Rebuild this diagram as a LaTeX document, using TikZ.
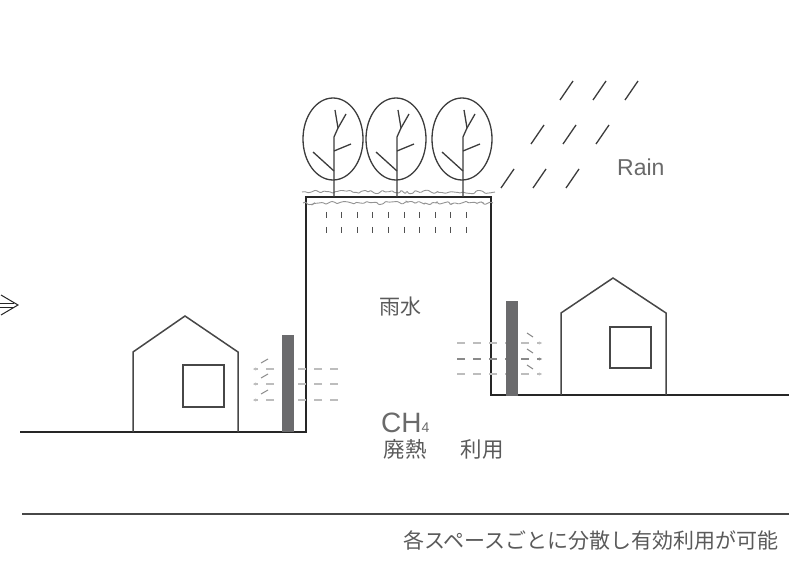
\documentclass[tikz,border=0pt]{standalone}
\usepackage{fontspec}
\setmainfont{Noto Sans CJK JP}
\newfontfamily\latinfont{Liberation Sans}
\usetikzlibrary{decorations.pathmorphing,arrows.meta}
\definecolor{ink}{HTML}{262626}
\definecolor{txt}{HTML}{5A5A5A}
\definecolor{latintxt}{HTML}{6A6A6A}
\definecolor{pillar}{HTML}{6B6B6D}
\definecolor{flowlight}{HTML}{BDBDBD}
\definecolor{flowdark}{HTML}{8A8A8A}
\tikzset{
  wall/.style={draw=ink, line width=2pt},
  house/.style={draw=ink!85, line width=1.5pt, line join=miter},
  tree/.style={draw=ink!90, line width=1.3pt},
  grass/.style={draw=gray!85, line width=0.9pt, decorate,
    decoration={random steps, segment length=3pt, amplitude=1.8pt}, rounded corners=0.8pt},
  tick/.style={draw=ink!80, line width=0.8pt},
  rain/.style={draw=ink!90, line width=1.3pt},
  flow/.style={line width=1.3pt, dash pattern=on 8pt off 8pt},
  slant/.style={draw=flowdark, line width=1pt},
  label/.style={text=txt, inner sep=0pt},
  pillarbox/.style={fill=pillar, draw=none}
}
\begin{document}
\begin{tikzpicture}[x=1pt, y=-1pt]
\useasboundingbox (0,0) rectangle (789,561);

% ground, raised block and ground on the right
\draw[wall] (20,432) -- (306,432) -- (306,197) -- (491,197) -- (491,395) -- (789,395);

% grass layer on the roof
\pgfmathsetseed{7}
\draw[grass] (302,192) -- (495,192);
\draw[grass] (303,203) -- (493,203);

% trees
\foreach \cx in {333,396,462} {
  \draw[tree] (\cx,139) ellipse [x radius=30pt, y radius=41pt];
  \draw[tree, line join=round] ({\cx+1},197) -- ({\cx+1},137) -- ({\cx+5},128) -- ({\cx+2},110);
  \draw[tree] ({\cx+5},128) -- ({\cx+13},114);
  \draw[tree] ({\cx+1},171) -- ({\cx-20},152);
  \draw[tree] ({\cx+1},151) -- ({\cx+18},144);
}

% water seeping through the soil
\foreach \i in {0,...,9} {
  \draw[tick] ({326+15.6*\i},212) -- ({326+15.6*\i},218);
  \draw[tick] ({326+15.6*\i},227) -- ({326+15.6*\i},233);
}

% rain
\foreach \x/\y in {560/100,593/100,625/100,531/144,563/144,596/144,501/188,533/188,566/188} {
  \draw[rain] (\x,\y) -- ({\x+13},{\y-19});
}

% houses
\draw[house] (133,432) -- (133,352) -- (185,316) -- (238,352) -- (238,432);
\draw[house] (183,365) rectangle (224,407);
\draw[house] (561,395) -- (561,313) -- (613,278) -- (666,313) -- (666,395);
\draw[house] (610,327) rectangle (651,368);

% heat flowing to the left house
\foreach \y/\c in {369/flowlight,384/flowlight,400/flowlight} {
  \draw[flow, draw=\c, -{Stealth[length=3pt,width=3pt]}] (338,\y) -- (253,\y);
}
\foreach \y in {361,376,392} {
  \draw[slant] (261,{\y+2}) -- (268,{\y-2});
}
% heat flowing to the right house
\foreach \y/\c in {343/flowlight,359/flowdark,374/flowlight} {
  \draw[flow, draw=\c, -{Stealth[length=3pt,width=3pt]}] (457,\y) -- (542,\y);
}
\foreach \y in {335,351,367} {
  \draw[slant] (527,{\y-2}) -- (533,{\y+2});
}

% storage pillars
\fill[pillarbox] (282,335) rectangle (294,432);
\fill[pillarbox] (506,301) rectangle (518,396);

% arrow at the left edge
\draw[draw=ink, line width=1pt] (0,303) -- (14,303) (0,307) -- (14,307);
\draw[draw=ink, line width=1pt, line join=miter] (1,295) -- (18,305) -- (1,315);

% bottom rule
\draw[draw=ink!85, line width=1.5pt] (22,514) -- (789,514);

% labels
\node[label, text=latintxt, anchor=base west, font=\latinfont\fontsize{23}{23}\selectfont] (rain) at (617,176) {Rain};
\node[label, font=\fontsize{21}{21}\selectfont] (water) at (400,307) {雨水};
\node[label, text=latintxt, anchor=base west, font=\latinfont\fontsize{28}{28}\selectfont] (ch4) at (381,432) {CH{\fontsize{14}{14}\selectfont 4}};
\node[label, font=\fontsize{21.5}{22}\selectfont] (heat) at (405,449) {廃熱};
\node[label, font=\fontsize{21.5}{22}\selectfont] (use) at (482,449) {利用};
\node[label, font=\fontsize{21}{21}\selectfont] (caption) at (591,540) {各スペースごとに分散し有効利用が可能};
\end{tikzpicture}
\end{document}
